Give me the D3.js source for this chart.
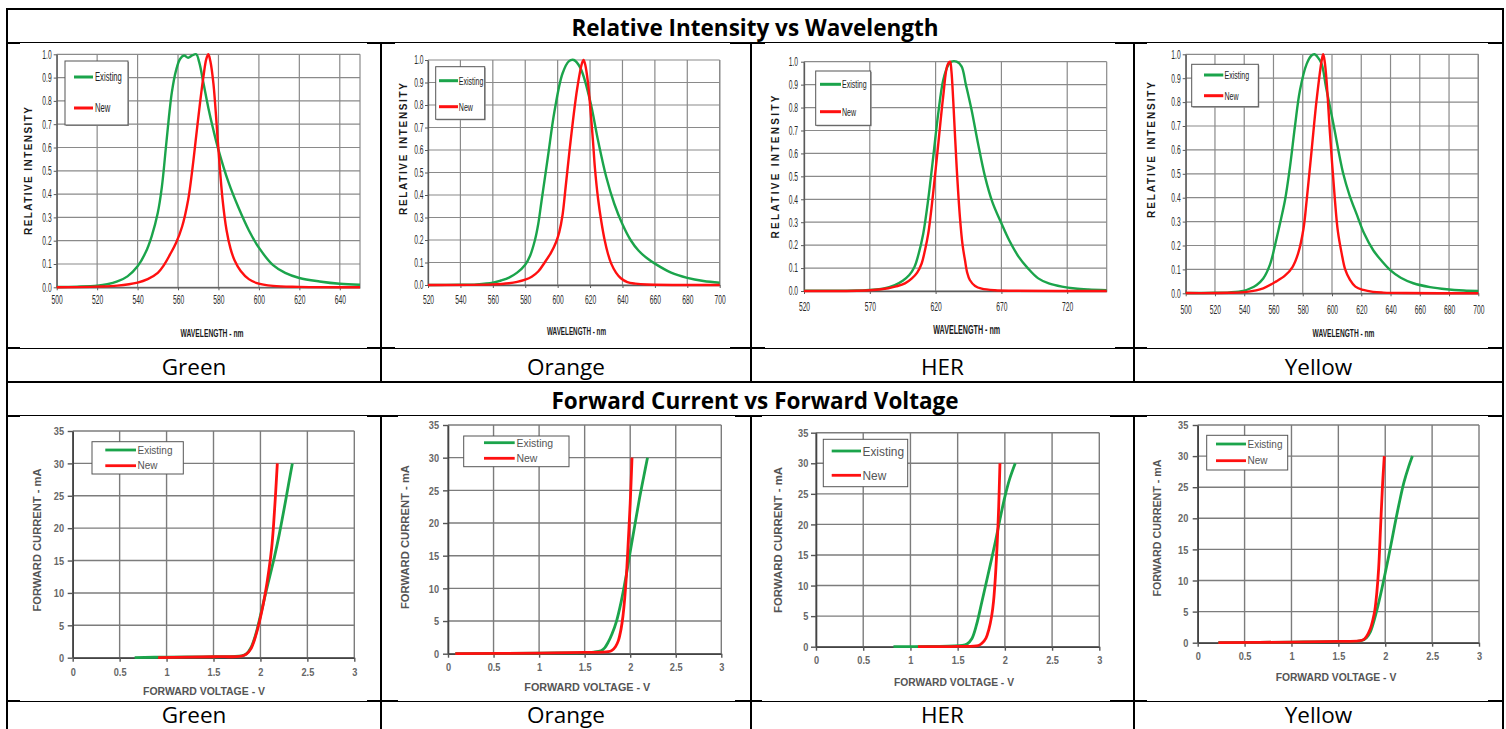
<!DOCTYPE html>
<html>
<head>
<meta charset="utf-8">
<script src="https://cdn.jsdelivr.net/npm/d3@7"></script>
<style>
  body { margin: 0; background: #fff; }
  svg { display: block; }
</style>
</head>
<body>
<svg width="1506" height="729"></svg>
<script>
// ---- table text ----
var ledNames = ['Green', 'Orange', 'HER', 'Yellow'];
var sectionTitles = ['Relative Intensity vs Wavelength', 'Forward Current vs Forward Voltage'];
var seriesNames = ['Existing', 'New'];

// ---- tick values ----
var intensityTicks = [0, 0.1, 0.2, 0.3, 0.4, 0.5, 0.6, 0.7, 0.8, 0.9, 1.0];
var currentTicks = [0, 5, 10, 15, 20, 25, 30, 35];
var voltageTicks = [0, 0.5, 1, 1.5, 2, 2.5, 3];
var greenWlTicks = [500, 520, 540, 560, 580, 600, 620, 640];
var orangeWlTicks = [520, 540, 560, 580, 600, 620, 640, 660, 680, 700];
var herWlTicks = [520, 570, 620, 670, 720];
var yellowWlTicks = [500, 520, 540, 560, 580, 600, 620, 640, 660, 680, 700];
var wlMax = [650, 700, 750, 700];

// ---- relative intensity vs wavelength [nm, relative] ----
var greenSpecExisting = [[500,0.001],[510,0.003],[520,0.007],[525,0.013],[530,0.025],[535,0.047],[540,0.09],[544,0.15],[547,0.22],[550,0.32],[552,0.43],[554,0.6],[555.5,0.73],[557,0.84],[559,0.93],[561,0.98],[563,0.995],[565,0.985],[567,0.995],[569,1.0],[570.5,0.965],[572.5,0.88],[575,0.77],[577.5,0.675],[580,0.59],[585,0.45],[590,0.34],[595,0.245],[600,0.17],[607,0.095],[613,0.062],[620,0.04],[630,0.025],[640,0.015],[650,0.011]];
var greenSpecNew = [[500,0],[520,0.003],[530,0.007],[540,0.02],[545,0.035],[550,0.062],[553,0.095],[556,0.14],[559,0.19],[562,0.26],[565,0.375],[567,0.5],[569,0.65],[571,0.8],[572.5,0.9],[574,0.98],[575,1.0],[576,0.97],[577.5,0.875],[580,0.59],[582,0.38],[584,0.245],[586,0.165],[588,0.115],[591,0.07],[595,0.035],[599,0.018],[607,0.006],[620,0.002],[650,0]];
var orangeSpecExisting = [[520,0],[540,0.001],[550,0.003],[560,0.01],[565,0.02],[570,0.033],[575,0.055],[580,0.09],[583,0.13],[586,0.2],[588,0.27],[590,0.37],[594,0.57],[598,0.77],[603,0.94],[607,0.995],[610,1.0],[614,0.965],[620,0.82],[625,0.64],[630,0.48],[635,0.36],[640,0.27],[645,0.2],[650,0.152],[655,0.12],[660,0.095],[670,0.055],[680,0.032],[690,0.018],[700,0.01]];
var orangeSpecNew = [[520,0],[560,0.003],[570,0.008],[575,0.014],[580,0.024],[584,0.037],[588,0.06],[592,0.1],[596,0.145],[599,0.19],[601,0.235],[603,0.31],[605,0.44],[608,0.64],[612,0.87],[615,0.985],[616,1.0],[617,0.98],[618.7,0.9],[620,0.8],[621.8,0.64],[623,0.52],[625,0.38],[627,0.28],[629,0.2],[631,0.14],[633,0.096],[636,0.055],[639,0.03],[643,0.013],[648,0.006],[655,0.002],[700,0]];
var herSpecExisting = [[520,0.001],[560,0.002],[570,0.005],[580,0.01],[589,0.026],[595,0.045],[600,0.07],[604,0.106],[607,0.16],[610.6,0.25],[614.4,0.4],[618.2,0.585],[622,0.775],[625.8,0.92],[629.6,0.985],[632,1.0],[636,1.0],[639.7,0.98],[643,0.9],[647.3,0.79],[652,0.65],[657.5,0.5],[663,0.39],[670,0.295],[676,0.22],[683,0.15],[690,0.1],[698,0.055],[706,0.033],[716,0.019],[726,0.011],[736,0.007],[750,0.004]];
var herSpecNew = [[520,0],[570,0.003],[584,0.012],[590,0.02],[596.7,0.033],[602,0.055],[606,0.08],[609.4,0.12],[612,0.18],[614.4,0.25],[618.2,0.43],[622,0.64],[625.8,0.85],[629,0.985],[631,1.0],[632,0.96],[633.4,0.83],[636,0.54],[638.5,0.32],[640.5,0.2],[642.3,0.135],[644,0.08],[646,0.048],[650,0.022],[655,0.01],[665,0.003],[680,0.001],[750,0]];
var yellowSpecExisting = [[500,0.001],[520,0.002],[530,0.004],[539.4,0.01],[544,0.02],[548.5,0.035],[553,0.062],[557.6,0.12],[561,0.2],[564,0.28],[567.9,0.39],[571.3,0.53],[574.7,0.7],[578.1,0.85],[582.7,0.96],[586,0.995],[588,1.0],[590,0.99],[592.9,0.96],[596,0.86],[600.9,0.71],[607.7,0.5],[612,0.41],[616.9,0.33],[622,0.25],[628.2,0.18],[634,0.135],[639.6,0.098],[647,0.065],[655.6,0.042],[667,0.026],[678.4,0.017],[690,0.012],[700,0.01]];
var yellowSpecNew = [[500,0.001],[530,0.002],[541.7,0.006],[553,0.021],[562,0.05],[568,0.075],[573,0.11],[577,0.17],[580.5,0.27],[582.7,0.39],[586.1,0.6],[589.5,0.81],[593,0.976],[594,1.0],[595,0.97],[596.4,0.88],[598.6,0.67],[602,0.39],[604,0.26],[606.6,0.167],[609,0.1],[612.3,0.056],[616,0.028],[621.4,0.014],[628,0.006],[635,0.003],[650,0.001],[700,0]];

// ---- forward current vs forward voltage [V, mA] ----
var greenIvExisting = [[0.66,0],[1.0,0.1],[1.5,0.15],[1.8,0.3],[1.85,0.6],[1.9,1.6],[1.95,3.6],[2.0,6.5],[2.05,9.6],[2.1,12.6],[2.15,15.6],[2.2,19.0],[2.25,22.8],[2.3,26.8],[2.34,30]];
var greenIvNew = [[0.91,0],[1.5,0.15],[1.8,0.25],[1.85,0.55],[1.9,1.4],[1.95,3.4],[2.0,6.2],[2.05,9.8],[2.09,13.5],[2.12,17],[2.14,20.5],[2.16,25],[2.18,30]];
var orangeIvExisting = [[0.08,0],[1.0,0.1],[1.6,0.25],[1.68,0.45],[1.72,0.9],[1.76,1.8],[1.8,3.0],[1.85,5.0],[1.9,7.9],[1.95,11.5],[2.0,15.6],[2.05,19.6],[2.1,23.6],[2.15,27.2],[2.19,30]];
var orangeIvNew = [[0.08,0],[1.0,0.1],[1.5,0.2],[1.76,0.3],[1.8,0.5],[1.84,1.1],[1.87,2.0],[1.9,3.8],[1.92,5.7],[1.94,8.5],[1.96,12.3],[1.98,17.5],[2.0,23],[2.02,30]];
var herIvExisting = [[0.82,0],[1.2,0.05],[1.55,0.2],[1.6,0.45],[1.65,1.3],[1.7,3.6],[1.75,6.9],[1.8,10.3],[1.85,13.7],[1.9,17.2],[1.95,21.0],[2.0,24.5],[2.05,27.4],[2.11,30]];
var herIvNew = [[1.08,0],[1.5,0.05],[1.72,0.2],[1.76,0.6],[1.8,1.4],[1.83,2.8],[1.86,5.0],[1.88,7.4],[1.9,11.5],[1.92,17.3],[1.935,23],[1.948,30]];
var yellowIvExisting = [[0.22,0],[1.0,0.1],[1.5,0.2],[1.75,0.35],[1.8,0.8],[1.84,1.7],[1.88,3.5],[1.92,5.8],[1.96,8.4],[2.0,11.2],[2.05,14.9],[2.1,18.8],[2.15,22.5],[2.2,25.8],[2.25,28.3],[2.29,30]];
var yellowIvNew = [[0.22,0],[1.0,0.1],[1.5,0.2],[1.72,0.3],[1.77,0.5],[1.8,1.0],[1.84,2.2],[1.87,3.8],[1.89,5.3],[1.91,8],[1.93,12],[1.95,18.5],[1.97,25],[1.99,30]];

var specTicks = [greenWlTicks, orangeWlTicks, herWlTicks, yellowWlTicks];
var specSeries = [[greenSpecExisting, greenSpecNew], [orangeSpecExisting, orangeSpecNew], [herSpecExisting, herSpecNew], [yellowSpecExisting, yellowSpecNew]];
var ivSeries = [[greenIvExisting, greenIvNew], [orangeIvExisting, orangeIvNew], [herIvExisting, herIvNew], [yellowIvExisting, yellowIvNew]];

// ---- layout (pixels) ----
var colX = [7, 381, 751, 1134, 1503];
var rowY = [9, 43, 348, 382, 416, 701];
var seriesColor = ['#1ba44b', '#ff1010'];
var docFont = "'Open Sans', 'Noto Sans', sans-serif";
var chartFont = "'Liberation Sans', Arial, sans-serif";

var specLayout = [
  {plot: [56.7, 54.3, 360, 287.3], img: [20, 367], yPad: 2, xLab: 12.7,
   leg: {box: [65, 61, 128, 125], lx: [74, 93], ly: [77, 108], tx: 95, fs: 12},
   yT: {x: 28, cy: 171, len: 128}, xT: {cx: 212, cy: 333, len: 63, fs: 11}},
  {plot: [428, 60, 719.7, 285], img: [395, 730], yPad: 1.5, xLab: 15,
   leg: {box: [435.7, 66.7, 484.7, 119.3], lx: [439, 458], ly: [80.7, 106.7], tx: 458.8, fs: 11},
   yT: {x: 403, cy: 149, len: 132}, xT: {cx: 576.5, cy: 331, len: 59, fs: 10.5}},
  {plot: [804, 61.7, 1106.7, 291], img: [765, 1115], yPad: 3, xLab: 16,
   leg: {box: [815.7, 71, 870.7, 125.3], lx: [820, 841], ly: [84.3, 111.7], tx: 842, fs: 11},
   yT: {x: 775, cy: 167, len: 143}, xT: {cx: 966.7, cy: 329.3, len: 67, fs: 12.5}},
  {plot: [1185.7, 54.3, 1478.3, 293.3], img: [1147, 1488], yPad: 2, xLab: 16.7,
   leg: {box: [1191.7, 64.3, 1258.3, 106.7], lx: [1204, 1223.3], ly: [75, 95.7], tx: 1224.5, fs: 11},
   yT: {x: 1151.7, cy: 150, len: 136}, xT: {cx: 1343.5, cy: 333.3, len: 62, fs: 11}}
];

var ivLayout = [
  {plot: [72.7, 431, 354.3, 657.7], img: [20, 367], yPad: 3.7, xLab: 14,
   leg: {box: [92, 441.7, 183.3, 474], lx: [105.3, 136], ly: [450, 465.7], tx: 137.5, fs: 10.5},
   yT: {x: 36.7, cy: 540, len: 143}, xT: {cx: 204, cy: 690.7, len: 122}},
  {plot: [448, 425, 721.3, 653.7], img: [398, 735], yPad: 4, xLab: 13,
   leg: {box: [463.7, 436, 569, 466.7], lx: [484, 514.7], ly: [442.7, 458.3], tx: 516.5, fs: 11},
   yT: {x: 404.7, cy: 537, len: 144}, xT: {cx: 587.3, cy: 687.3, len: 126}},
  {plot: [816, 432.7, 1099.3, 646.7], img: [762, 1110], yPad: 2.7, xLab: 13.3,
   leg: {box: [823.3, 439.3, 907.7, 486.7], lx: [831.7, 861], ly: [451, 475.3], tx: 862.5, fs: 12.5},
   yT: {x: 778.3, cy: 540, len: 146}, xT: {cx: 954, cy: 681.7, len: 120}},
  {plot: [1197.7, 425, 1479, 642.7], img: [1147, 1488], yPad: 4.4, xLab: 13,
   leg: {box: [1206.7, 435.3, 1287.7, 470], lx: [1216, 1246], ly: [444, 460.7], tx: 1247.5, fs: 10.5},
   yT: {x: 1156.7, cy: 528, len: 137}, xT: {cx: 1336, cy: 677.3, len: 120.7}}
];

var svg = d3.select('svg');

// squeeze text horizontally (the pasted chart images are stretched vertically)
function squeeze(sel, f) {
    sel.each(function() {
        var w = this.getComputedTextLength();
        d3.select(this).attr('textLength', w * f).attr('lengthAdjust', 'spacingAndGlyphs');
    });
}

//table borders
var borders = svg.append('g').attr('stroke', '#000').attr('stroke-width', 2);
rowY.forEach(function(y) {
    borders.append('line').attr('x1', colX[0] - 1).attr('x2', colX[4] + 1).attr('y1', y).attr('y2', y);
});
[colX[0], colX[4]].forEach(function(x) {
    borders.append('line').attr('x1', x).attr('x2', x).attr('y1', rowY[0]).attr('y2', 730);
});
colX.slice(1, 4).forEach(function(x) {
    borders.append('line').attr('x1', x).attr('x2', x).attr('y1', rowY[1]).attr('y2', rowY[3]);
    borders.append('line').attr('x1', x).attr('x2', x).attr('y1', rowY[4]).attr('y2', 730);
});

//section titles and colour labels
sectionTitles.forEach(function(t, i) {
    svg.append('text')
        .attr('x', (colX[0] + colX[4]) / 2)
        .attr('y', (i == 0 ? rowY[0] : rowY[3]) + 26.5)
        .attr('text-anchor', 'middle')
        .style('font-family', docFont).style('font-size', '22.5px').style('font-weight', 'bold')
        .text(t);
});
ledNames.forEach(function(name, i) {
    [rowY[2] + 27, rowY[5] + 21.5].forEach(function(base) {
        svg.append('text')
            .attr('x', (colX[i] + colX[i + 1]) / 2)
            .attr('y', base)
            .attr('text-anchor', 'middle')
            .style('font-family', docFont).style('font-size', '22.5px')
            .text(name);
    });
});

function drawLegend(g, L, boxStroke, textFill, lineW, textSqueeze, shadow) {
    var b = L.leg.box;
    if (shadow) {
        g.append('rect').attr('x', b[0] + 1).attr('y', b[1] + 1)
            .attr('width', b[2] - b[0]).attr('height', b[3] - b[1]).attr('fill', '#9a9a9a');
    }
    g.append('rect').attr('x', b[0]).attr('y', b[1])
        .attr('width', b[2] - b[0]).attr('height', b[3] - b[1])
        .attr('fill', '#fff').attr('stroke', boxStroke).attr('stroke-width', 1);
    seriesNames.forEach(function(name, k) {
        g.append('line')
            .attr('x1', L.leg.lx[0]).attr('x2', L.leg.lx[1])
            .attr('y1', L.leg.ly[k]).attr('y2', L.leg.ly[k])
            .attr('stroke', seriesColor[k]).attr('stroke-width', lineW);
        var t = g.append('text')
            .attr('x', L.leg.tx).attr('y', L.leg.ly[k] + L.leg.fs * 0.36)
            .style('font-family', chartFont).style('font-size', L.leg.fs + 'px')
            .attr('fill', textFill)
            .text(name);
        squeeze(t, textSqueeze);
    });
}

function drawSpectrum(i) {
    var L = specLayout[i];
    var ticks = specTicks[i];
    var g = svg.append('g').attr('class', 'spectrum');

    g.append('rect').attr('x', L.img[0]).attr('y', rowY[1])
        .attr('width', L.img[1] - L.img[0]).attr('height', rowY[2] - rowY[1]).attr('fill', '#fff');

    var x = d3.scaleLinear().domain([ticks[0], wlMax[i]]).range([L.plot[0], L.plot[2]]);
    var y = d3.scaleLinear().domain([0, 1]).range([L.plot[3], L.plot[1]]);

    //grid
    var grid = g.append('g').attr('stroke', '#8a8a8a').attr('stroke-width', 1.2);
    grid.selectAll('.h').data(intensityTicks).enter().append('line')
        .attr('x1', L.plot[0]).attr('x2', L.plot[2])
        .attr('y1', function(d) { return y(d); }).attr('y2', function(d) { return y(d); });
    grid.selectAll('.v').data(ticks.concat([wlMax[i]])).enter().append('line')
        .attr('y1', L.plot[1]).attr('y2', L.plot[3])
        .attr('x1', function(d) { return x(d); }).attr('x2', function(d) { return x(d); });

    //axes
    var fs = 12;
    var yAxis = g.append('g').attr('transform', 'translate(' + L.plot[0] + ',0)')
        .call(d3.axisLeft(y).tickValues(intensityTicks).tickFormat(d3.format('.1f'))
            .tickSize(3).tickSizeOuter(0).tickPadding(L.yPad));
    var xAxis = g.append('g').attr('transform', 'translate(0,' + L.plot[3] + ')')
        .call(d3.axisBottom(x).tickValues(ticks).tickFormat(d3.format('d'))
            .tickSize(3).tickSizeOuter(0).tickPadding(L.xLab - 3 - 0.35 * fs));
    [yAxis, xAxis].forEach(function(ax) {
        ax.select('.domain').attr('stroke', '#5a5a5a').attr('stroke-width', 1.3);
        ax.selectAll('.tick line').attr('stroke', '#5a5a5a');
        ax.selectAll('.tick text').attr('fill', '#2a2a2a')
            .style('font-family', chartFont).style('font-size', fs + 'px');
        squeeze(ax.selectAll('.tick text'), 0.56);
    });

    //curves
    var line = d3.line()
        .x(function(d) { return x(d[0]); })
        .y(function(d) { return y(d[1]); })
        .curve(d3.curveCatmullRom.alpha(0.5));
    specSeries[i].forEach(function(s, k) {
        g.append('path').datum(s).attr('d', line)
            .attr('fill', 'none').attr('stroke', seriesColor[k]).attr('stroke-width', 2.4)
            .attr('stroke-linejoin', 'round');
    });

    //axis titles
    g.append('text')
        .attr('transform', 'translate(' + (L.yT.x + 3.6) + ',' + L.yT.cy + ') rotate(-90)')
        .attr('text-anchor', 'middle')
        .attr('textLength', L.yT.len).attr('lengthAdjust', 'spacing')
        .style('font-family', chartFont).style('font-size', '10px').style('font-weight', 'bold')
        .attr('fill', '#1a1a1a')
        .text('RELATIVE INTENSITY');
    g.append('text')
        .attr('x', L.xT.cx).attr('y', L.xT.cy + L.xT.fs * 0.36)
        .attr('text-anchor', 'middle')
        .attr('textLength', L.xT.len).attr('lengthAdjust', 'spacingAndGlyphs')
        .style('font-family', chartFont).style('font-size', L.xT.fs + 'px').style('font-weight', 'bold')
        .attr('fill', '#1a1a1a')
        .text('WAVELENGTH - nm');

    drawLegend(g, L, '#555', '#222', 3, 0.64, true);
}

function drawIv(i) {
    var L = ivLayout[i];
    var g = svg.append('g').attr('class', 'iv');

    g.append('rect').attr('x', L.img[0]).attr('y', rowY[4])
        .attr('width', L.img[1] - L.img[0]).attr('height', rowY[5] - rowY[4]).attr('fill', '#fff');

    var x = d3.scaleLinear().domain([0, 3]).range([L.plot[0], L.plot[2]]);
    var y = d3.scaleLinear().domain([0, 35]).range([L.plot[3], L.plot[1]]);

    var grid = g.append('g').attr('stroke', '#7c7c7c').attr('stroke-width', 1.4);
    grid.selectAll('.h').data(currentTicks).enter().append('line')
        .attr('x1', L.plot[0]).attr('x2', L.plot[2])
        .attr('y1', function(d) { return y(d); }).attr('y2', function(d) { return y(d); });
    grid.selectAll('.v').data(voltageTicks).enter().append('line')
        .attr('y1', L.plot[1]).attr('y2', L.plot[3])
        .attr('x1', function(d) { return x(d); }).attr('x2', function(d) { return x(d); });

    var fs = 11.5;
    var yAxis = g.append('g').attr('transform', 'translate(' + L.plot[0] + ',0)')
        .call(d3.axisLeft(y).tickValues(currentTicks).tickSize(5).tickSizeOuter(0).tickPadding(L.yPad));
    var xAxis = g.append('g').attr('transform', 'translate(0,' + L.plot[3] + ')')
        .call(d3.axisBottom(x).tickValues(voltageTicks).tickFormat(d3.format('~g'))
            .tickSize(4).tickSizeOuter(0).tickPadding(L.xLab - 4 - 0.35 * fs));
    [yAxis, xAxis].forEach(function(ax) {
        ax.select('.domain').attr('stroke', '#444').attr('stroke-width', 1.6);
        ax.selectAll('.tick line').attr('stroke', '#555').attr('stroke-width', 1.4);
        ax.selectAll('.tick text').attr('fill', '#666')
            .style('font-family', chartFont).style('font-size', fs + 'px').style('font-weight', 'bold');
        squeeze(ax.selectAll('.tick text'), 0.8);
    });

    var line = d3.line()
        .x(function(d) { return x(d[0]); })
        .y(function(d) { return y(d[1]); })
        .curve(d3.curveCatmullRom.alpha(0.5));
    ivSeries[i].forEach(function(s, k) {
        g.append('path').datum(s).attr('d', line)
            .attr('fill', 'none').attr('stroke', seriesColor[k]).attr('stroke-width', 2.8)
            .attr('stroke-linejoin', 'round');
    });

    g.append('text')
        .attr('transform', 'translate(' + (L.yT.x + 3.8) + ',' + L.yT.cy + ') rotate(-90)')
        .attr('text-anchor', 'middle')
        .attr('textLength', L.yT.len).attr('lengthAdjust', 'spacingAndGlyphs')
        .style('font-family', chartFont).style('font-size', '10.5px').style('font-weight', 'bold')
        .attr('fill', '#555')
        .text('FORWARD CURRENT - mA');
    g.append('text')
        .attr('x', L.xT.cx).attr('y', L.xT.cy + 11 * 0.36)
        .attr('text-anchor', 'middle')
        .attr('textLength', L.xT.len).attr('lengthAdjust', 'spacingAndGlyphs')
        .style('font-family', chartFont).style('font-size', '11px').style('font-weight', 'bold')
        .attr('fill', '#555')
        .text('FORWARD VOLTAGE - V');

    drawLegend(g, L, '#555', '#555', 2.8, 0.95, false);
}

for (var i = 0; i < 4; i++) {
    drawSpectrum(i);
    drawIv(i);
}
</script>
</body>
</html>
